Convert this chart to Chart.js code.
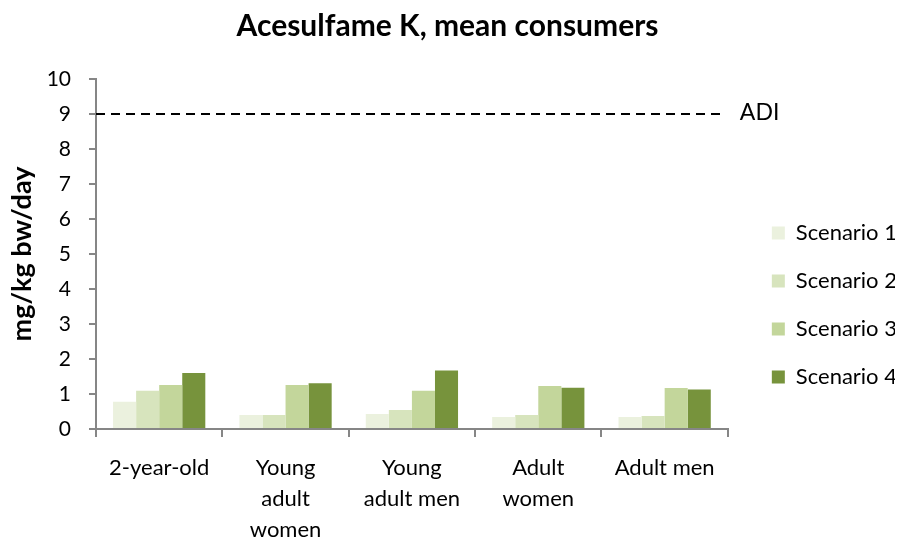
<!DOCTYPE html>
<html>
<head>
<meta charset="utf-8">
<script src="https://cdn.jsdelivr.net/npm/chart.js@4/dist/chart.umd.min.js"></script>
<style>
  body { margin: 0; background: #fff; }
  #wrap { width: 906px; height: 537px; }
</style>
</head>
<body>
<div id="wrap"><canvas id="canvas"></canvas></div>
<script>
'use strict';

var categories = [['2-year-old'], ['Young', 'adult', 'women'], ['Young', 'adult men'], ['Adult', 'women'], ['Adult men']];
var scenario1 = [0.78, 0.40, 0.43, 0.34, 0.34];
var scenario2 = [1.09, 0.40, 0.54, 0.40, 0.37];
var scenario3 = [1.26, 1.26, 1.09, 1.23, 1.17];
var scenario4 = [1.60, 1.31, 1.67, 1.18, 1.13];
var adiValue = 9;
var yTicks = [0, 1, 2, 3, 4, 5, 6, 7, 8, 9, 10];

var fontName = 'Lato, "Open Sans", sans-serif';

// dashed ADI line across the plot, placed with the y scale
var adiLine = {
	id: 'adiLine',
	afterDatasetsDraw: function(chart) {
		var ctx = chart.ctx;
		var area = chart.chartArea;
		var y = chart.scales.y.getPixelForValue(adiValue);
		ctx.save();
		ctx.strokeStyle = '#000';
		ctx.lineWidth = 2;
		ctx.setLineDash([9, 6]);
		ctx.beginPath();
		ctx.moveTo(area.left, y);
		ctx.lineTo(area.right - 6, y);
		ctx.stroke();
		ctx.setLineDash([]);
		ctx.fillStyle = '#000';
		ctx.font = '23px ' + fontName;
		ctx.textBaseline = 'middle';
		ctx.fillText('ADI', area.right + 12, y - 1);
		ctx.restore();
	}
};

var config = {
	type: 'bar',
	data: {
		labels: categories,
		datasets: [{
			label: 'Scenario 1',
			backgroundColor: '#EBF1DE',
			data: scenario1
		}, {
			label: 'Scenario 2',
			backgroundColor: '#D7E4BD',
			data: scenario2
		}, {
			label: 'Scenario 3',
			backgroundColor: '#C3D69B',
			data: scenario3
		}, {
			label: 'Scenario 4',
			backgroundColor: '#77933C',
			data: scenario4
		}]
	},
	options: {
		responsive: true,
		maintainAspectRatio: false,
		animation: false,
		categoryPercentage: 0.73,
		barPercentage: 1.0,
		layout: { padding: { left: 0, right: 11, top: 0, bottom: 0 } },
		plugins: {
			title: {
				display: true,
				text: 'Acesulfame K, mean consumers',
				color: '#000',
				font: { family: fontName, size: 30, weight: 'bold' },
				padding: { top: 8, bottom: 35 }
			},
			legend: {
				position: 'right',
				title: {
					display: true,
					text: ' ',
					font: { size: 11 },
					padding: 30
				},
				labels: {
					color: '#000',
					font: { family: fontName, size: 22 },
					boxWidth: 13,
					boxHeight: 13,
					padding: 26
				}
			},
			tooltip: { enabled: false }
		},
		scales: {
			x: {
				afterFit: function(scale) { scale.height = 108; },
				grid: {
					drawOnChartArea: false,
					drawTicks: true,
					tickLength: 8,
					color: '#868686',
					lineWidth: 2
				},
				border: { color: '#868686', width: 2 },
				ticks: {
					color: '#000',
					font: { family: fontName, size: 22, lineHeight: 1.4 },
					maxRotation: 0,
					autoSkip: false,
					padding: 16
				}
			},
			y: {
				min: 0,
				max: 10,
				afterFit: function(scale) { scale.width = 96; },
				afterBuildTicks: function(scale) {
					scale.ticks = yTicks.map(function(v) { return { value: v }; });
				},
				grid: {
					drawOnChartArea: false,
					drawTicks: true,
					tickLength: 7,
					color: '#868686',
					lineWidth: 2
				},
				border: { color: '#868686', width: 2 },
				ticks: {
					color: '#000',
					font: { family: fontName, size: 21 },
					padding: 18
				},
				title: {
					display: true,
					text: 'mg/kg bw/day',
					color: '#000',
					font: { family: fontName, size: 27, weight: 'bold' },
					padding: { top: 6, bottom: 0 }
				}
			},
			// empty right-hand axis, only keeps a gap before the legend
			gap: {
				type: 'linear',
				position: 'right',
				afterFit: function(scale) { scale.width = 18; },
				grid: { display: false },
				border: { display: false },
				ticks: { display: false }
			}
		}
	},
	plugins: [adiLine]
};

var ctx = document.getElementById('canvas').getContext('2d');
window.mychart = new Chart(ctx, config);
</script>
</body>
</html>
